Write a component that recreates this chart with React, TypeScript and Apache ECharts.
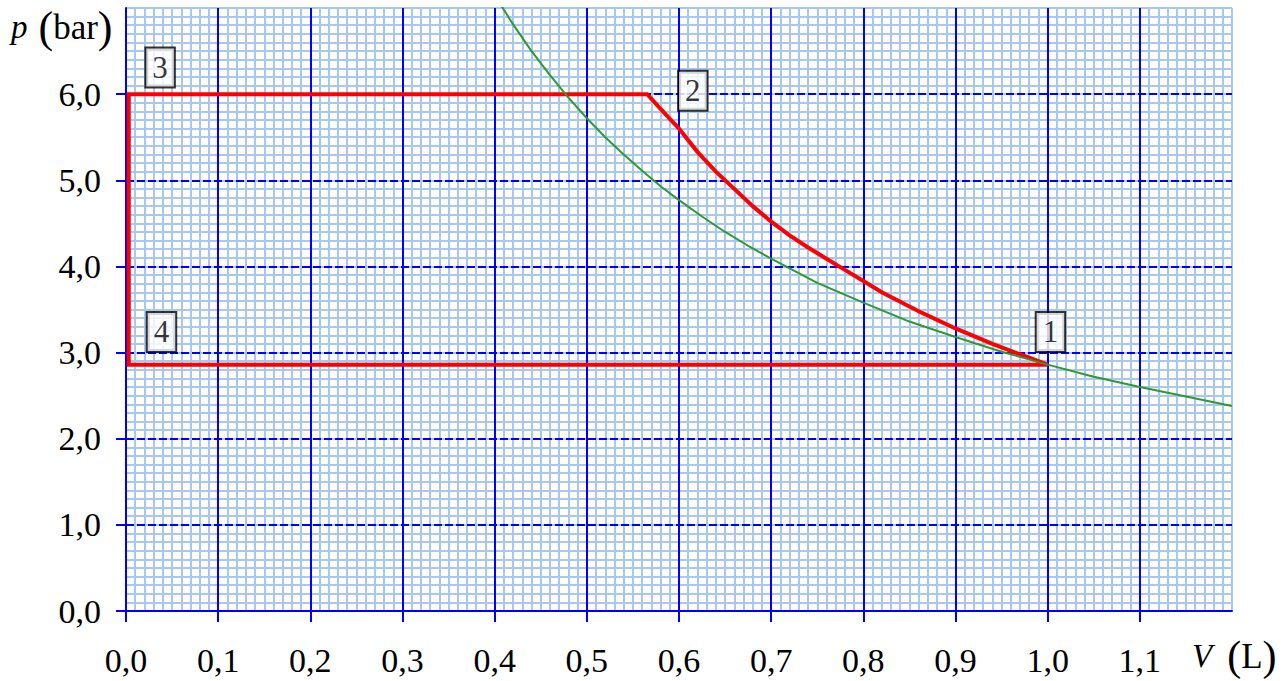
import React, { useEffect, useRef } from "react";
import * as echarts from "echarts";

// ---- data ----
const xTickValues = [0, 0.1, 0.2, 0.3, 0.4, 0.5, 0.6, 0.7, 0.8, 0.9, 1.0, 1.1];
const yTickValues = [0, 1, 2, 3, 4, 5, 6];

// isotherm (green)
const isoV = [0.4, 0.42, 0.44, 0.46, 0.48, 0.5, 0.52, 0.54, 0.56, 0.58, 0.6, 0.625, 0.65, 0.675, 0.7, 0.75, 0.8, 0.85, 0.9, 0.95, 1.0, 1.05, 1.1, 1.15, 1.2];
const isoP = [7.15, 6.81, 6.5, 6.22, 5.96, 5.72, 5.5, 5.3, 5.11, 4.93, 4.77, 4.58, 4.4, 4.24, 4.09, 3.81, 3.58, 3.36, 3.18, 3.01, 2.86, 2.72, 2.6, 2.49, 2.38];

// cycle (red): 1 -> 2 (compression), 2 -> 3, 3 -> 4, 4 -> 1
const cycleV = [1.0, 0.98, 0.96, 0.94, 0.92, 0.9, 0.88, 0.86, 0.84, 0.82, 0.8, 0.78, 0.76, 0.74, 0.72, 0.7, 0.68, 0.66, 0.64, 0.62, 0.6, 0.58, 0.5655, 0.003, 0.003, 1.0];
const cycleP = [2.86, 2.94, 3.02, 3.1, 3.19, 3.28, 3.38, 3.48, 3.59, 3.7, 3.83, 3.96, 4.09, 4.22, 4.36, 4.52, 4.7, 4.9, 5.1, 5.33, 5.6, 5.83, 6.0, 6.0, 2.86, 2.86];

// state labels
const stateNames = ["1", "2", "3", "4"];
const stateV = [1.003, 0.615, 0.037, 0.0385];
const stateP = [3.24, 6.04, 6.31, 3.24];

const FONT = "'Liberation Serif', 'Times New Roman', serif";
const BLUE = "#0000ff";
const LIGHT = "#a8c8f0";
const fmt = (v: number) => v.toFixed(1).replace(".", ",");

export default function App() {
  const ref = useRef<HTMLDivElement>(null);

  useEffect(() => {
    document.body.style.margin = "0";
    if (!ref.current) return;
    const chart = echarts.init(ref.current, undefined, { renderer: "svg" });

    const grid = { left: 126, right: 56, top: 8, bottom: 70 };

    const option: any = {
      animation: false,
      backgroundColor: "#ffffff",
      grid,
      xAxis: [
        {
          type: "value",
          min: 0,
          max: 1.2,
          interval: 0.1,
          z: 1,
          position: "bottom",
          axisLine: { show: true, lineStyle: { color: BLUE, width: 2 } },
          axisTick: {
            show: true,
            length: 11,
            customValues: xTickValues,
            lineStyle: { color: BLUE, width: 2 },
          },
          axisLabel: {
            show: true,
            customValues: xTickValues,
            formatter: (v: number) => fmt(v),
            margin: 32,
            color: "#000",
            fontFamily: FONT,
            fontSize: 34,
          },
          splitLine: { show: true, lineStyle: { color: BLUE, width: 2, type: "solid" } },
          minorSplitLine: { show: false },
        },
        {
          type: "value",
          min: 0,
          max: 1.2,
          interval: 0.1,
          z: 0,
          axisLine: { show: false },
          axisTick: { show: false },
          axisLabel: { show: false },
          splitLine: { show: true, lineStyle: { color: LIGHT, width: 2 } },
          minorTick: { show: false, splitNumber: 10 },
          minorSplitLine: { show: true, lineStyle: { color: LIGHT, width: 2 } },
        },
      ],
      yAxis: [
        {
          type: "value",
          min: 0,
          max: 7,
          interval: 1,
          z: 1,
          position: "left",
          axisLine: { show: true, lineStyle: { color: BLUE, width: 2 } },
          axisTick: {
            show: true,
            length: 10,
            customValues: yTickValues,
            lineStyle: { color: BLUE, width: 2 },
          },
          axisLabel: {
            show: true,
            customValues: yTickValues,
            formatter: (v: number) => fmt(v),
            margin: 25,
            color: "#000",
            fontFamily: FONT,
            fontSize: 34,
          },
          splitLine: { show: true, lineStyle: { color: BLUE, width: 2, type: [8, 3] } },
          minorSplitLine: { show: false },
        },
        {
          type: "value",
          min: 0,
          max: 7,
          interval: 1,
          z: 0,
          axisLine: { show: false },
          axisTick: { show: false },
          axisLabel: { show: false },
          splitLine: { show: true, lineStyle: { color: LIGHT, width: 2 } },
          minorTick: { show: false, splitNumber: 10 },
          minorSplitLine: { show: true, lineStyle: { color: LIGHT, width: 2 } },
        },
      ],
      series: [
        {
          type: "line",
          name: "cycle",
          xAxisIndex: 0,
          yAxisIndex: 0,
          z: 3,
          data: cycleV.map((v, i) => [v, cycleP[i]]),
          showSymbol: false,
          symbol: "none",
          lineStyle: { color: "#ff0000", width: 4, join: "miter" },
          clip: true,
        },
        {
          type: "line",
          name: "isotherm",
          xAxisIndex: 0,
          yAxisIndex: 0,
          z: 4,
          data: isoV.map((v, i) => [v, isoP[i]]),
          showSymbol: false,
          symbol: "none",
          lineStyle: { color: "#2e9a2e", width: 2 },
          clip: true,
        },
        {
          type: "scatter",
          name: "states",
          xAxisIndex: 0,
          yAxisIndex: 0,
          z: 6,
          symbolSize: 0,
          data: stateNames.map((n, i) => ({ name: n, value: [stateV[i], stateP[i]] })),
          label: {
            show: true,
            position: "inside",
            formatter: (p: any) => p.name,
            fontFamily: FONT,
            fontSize: 31,
            lineHeight: 32,
            color: "#000",
            backgroundColor: "#ffffff",
            borderColor: "#000000",
            borderWidth: 2,
            padding: [4, 6, 2, 6],
          },
          emphasis: { disabled: true },
        },
      ],
      graphic: [
        {
          type: "text",
          left: 11,
          top: 5,
          z: 10,
          style: {
            text: "{i|p}{sp|  }{pa|(}{t|bar}{pa|)}",
            rich: {
              i: { fontFamily: FONT, fontSize: 33, fontStyle: "italic", fill: "#000" },
              sp: { fontFamily: FONT, fontSize: 22, fill: "#000" },
              pa: { fontFamily: FONT, fontSize: 44, fill: "#000" },
              t: { fontFamily: FONT, fontSize: 35, fill: "#000" },
            },
          },
        },
        {
          type: "text",
          left: 1192,
          top: 635,
          z: 10,
          style: {
            text: "{i|V}{sp|   }{pa|(}{t|L}{pa|)}",
            rich: {
              i: { fontFamily: FONT, fontSize: 33, fontStyle: "italic", fill: "#000" },
              sp: { fontFamily: FONT, fontSize: 20, fill: "#000" },
              pa: { fontFamily: FONT, fontSize: 42, fill: "#000" },
              t: { fontFamily: FONT, fontSize: 35, fill: "#000" },
            },
          },
        },
      ],
    };

    chart.setOption(option);
    return () => {
      chart.dispose();
    };
  }, []);

  return <div ref={ref} style={{ width: 1288, height: 681 }} />;
}
